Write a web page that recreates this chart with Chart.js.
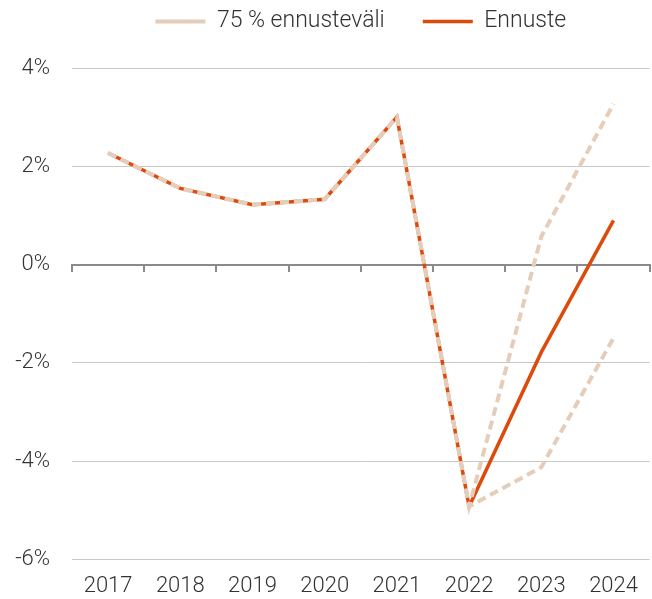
<!DOCTYPE html>
<html><head><meta charset="utf-8">
<script src="https://cdn.jsdelivr.net/npm/chart.js@4/dist/chart.umd.min.js"></script>
<style>html,body{margin:0;padding:0;background:#fff}#wrap{width:652px;height:599px}</style>
</head><body><div id="wrap"><canvas id="c"></canvas></div>
<script>
const years = ['2017','2018','2019','2020','2021','2022','2023','2024'];
const ennuste = [2.27, 1.55, 1.22, 1.33, 3.0, -4.92, -1.78, 0.9];
const upper = [2.27, 1.55, 1.22, 1.33, 3.0, -4.92, 0.57, 3.27];
const lower = [2.27, 1.55, 1.22, 1.33, 3.0, -4.92, -4.12, -1.49];
const yTicks = [-6, -4, -2, 0, 2, 4];

const ORANGE = '#dc4a0c';
const BEIGE = '#e6cdb9';
const FONT = 'Roboto';

const legendPatch = {
  id: 'legendPatch',
  afterInit(chart) {
    const lg = chart.legend;
    if (!lg) return;
    const orig = lg.fit;
    lg.fit = function() { orig.call(this); this.height += 25; };
  },
  afterLayout(chart) {
    const lg = chart.legend;
    if (!lg) return;
    lg.left = chart.chartArea.left;
    lg.right = chart.chartArea.right;
  }
};

new Chart(document.getElementById('c'), {
  type: 'line',
  plugins: [legendPatch],
  data: {
    labels: years,
    datasets: [
      {label: '75 % ennusteväli', data: upper, borderColor: BEIGE, backgroundColor: BEIGE, borderWidth: 4, borderDash: [9,5], pointRadius: 0, pointStyle: 'line', tension: 0},
      {label: 'lower', data: lower, borderColor: BEIGE, backgroundColor: BEIGE, borderWidth: 4, borderDash: [9,5], pointRadius: 0, pointStyle: 'line', tension: 0},
      {label: 'Ennuste', data: ennuste, borderColor: ORANGE, backgroundColor: ORANGE, borderWidth: 3.5, pointRadius: 0, pointStyle: 'line', tension: 0}
    ]
  },
  options: {
    responsive: true, maintainAspectRatio: false, animation: false,
    layout: {padding: {top: -28, right: 1, bottom: -15, left: 0}},
    plugins: {
      tooltip: {enabled: false},
      legend: {
        position: 'top',
        labels: {
          filter: (it) => it.text !== 'lower',
          usePointStyle: true, pointStyleWidth: 50, boxHeight: 4,
          color: '#333', font: {family: FONT, size: 23, weight: 300},
          padding: 38
        }
      }
    },
    scales: {
      x: {
        position: 'bottom',
        offset: true,
        grid: {display: false, drawTicks: false},
        border: {display: false},
        ticks: {color: '#333', font: {family: FONT, size: 22, weight: 300}, padding: 14, maxRotation: 0}
      },
      x0: {
        type: 'category', labels: years,
        position: {y: 0},
        offset: true,
        afterFit: (s) => { s.height = 0; },
        grid: {display: true, drawOnChartArea: false, drawTicks: true, tickLength: 6, color: '#8a8a8a', lineWidth: 2, offset: true},
        border: {display: true, color: '#8a8a8a', width: 2},
        ticks: {display: false}
      },
      y: {
        min: -6, max: 4,
        afterFit: (s) => { s.width = 72; },
        afterBuildTicks: (s) => { s.ticks = yTicks.map(v => ({value: v})); },
        grid: {color: (ctx) => ctx.tick && ctx.tick.value === 0 ? 'rgba(0,0,0,0)' : '#c8c8c8', lineWidth: 1, drawTicks: false},
        border: {display: false},
        ticks: {color: '#333', font: {family: FONT, size: 22, weight: 300}, padding: 22, callback: (v) => v + '%'}
      }
    }
  }
});
</script></body></html>
